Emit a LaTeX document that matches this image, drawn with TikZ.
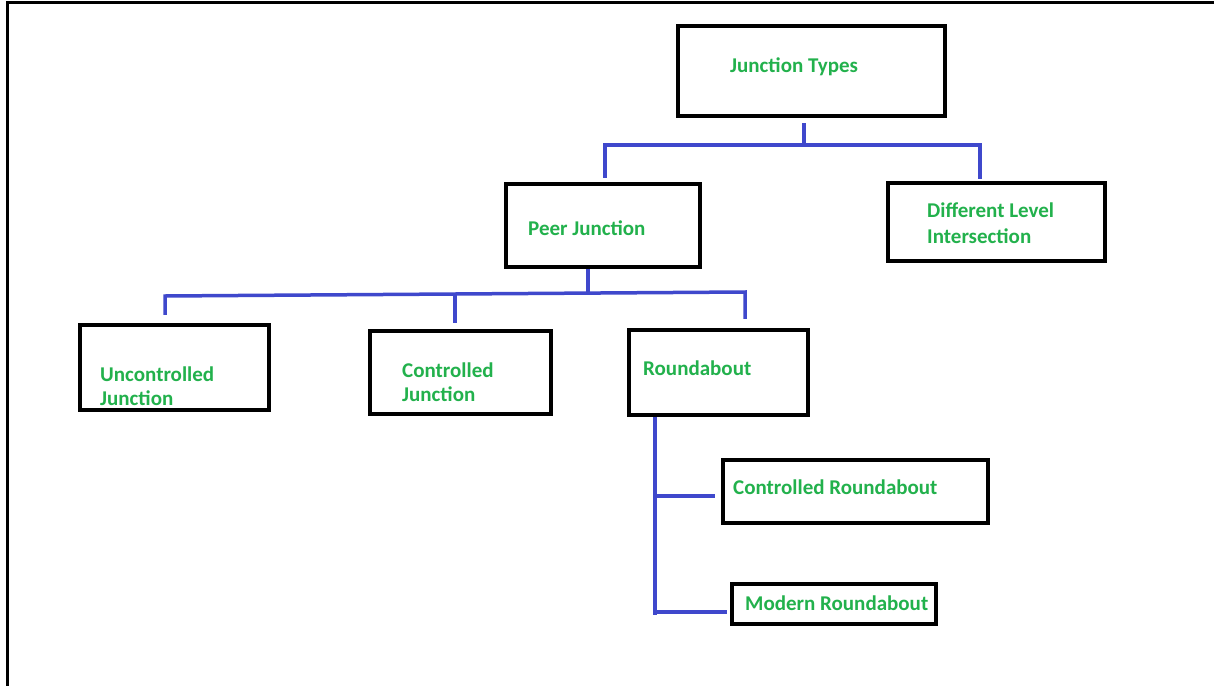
\documentclass[tikz,border=0pt]{standalone}
\usepackage{fontspec}
\setmainfont{Carlito}
\usetikzlibrary{calc}
\definecolor{labelgreen}{HTML}{22B14C}
\definecolor{linkblue}{HTML}{3F48CC}
\begin{document}
\begin{tikzpicture}[x=1pt,y=-1pt,
  box/.style={draw=black,line width=4.5pt,rectangle,inner sep=0pt},
  lbl/.style={anchor=base west,inner sep=0pt,text=labelgreen,
    font=\fontsize{21}{25}\selectfont\bfseries},
  link/.style={draw=linkblue,line width=3.5pt},
  frame/.style={draw=black,line width=3pt}]
\useasboundingbox (0,0) rectangle (1214,685);
\fill[white] (0,0) rectangle (1214,685);
% outer frame (top and left edges)
\draw[frame] (7,686) -- (7,3) -- (1215,3);

% boxes
\node[box,minimum width=267pt,minimum height=90pt] (jt)   at (811.5,71)   {};
\node[box,minimum width=194pt,minimum height=83pt] (peer) at (603,225.5)  {};
\node[box,minimum width=217pt,minimum height=78pt] (dli)  at (996.5,222)  {};
\node[box,minimum width=189pt,minimum height=85pt] (unc)  at (174.5,367.5){};
\node[box,minimum width=181pt,minimum height=83pt] (ctl)  at (460.5,372.5){};
\node[box,minimum width=179pt,minimum height=85pt] (rnd)  at (718.5,372.5){};
\node[box,minimum width=265pt,minimum height=63pt] (cra)  at (855.5,491.5){};
\node[box,minimum width=204pt,minimum height=40pt] (mra)  at (834,604)    {};

% labels
\node[lbl] (jt-l)   at (730,72)  {Junction Types};
\node[lbl] (peer-l) at (528,235) {Peer Junction};
\node[lbl] (dli-l1) at (927,217) {Different Level};
\node[lbl] (dli-l2) at (927,243) {Intersection};
\node[lbl] (unc-l1) at (100,381) {Uncontrolled};
\node[lbl] (unc-l2) at (100,405) {Junction};
\node[lbl] (ctl-l1) at (402,377) {Controlled};
\node[lbl] (ctl-l2) at (402,401) {Junction};
\node[lbl] (rnd-l)  at (643,375) {Roundabout};
\node[lbl] (cra-l)  at (733,494) {Controlled Roundabout};
\node[lbl] (mra-l)  at (745,610) {Modern Roundabout};

% first level
\coordinate (t1) at (804,145);
\coordinate (hA) at (605,145);
\coordinate (hB) at (980,145);
\draw[link] ([yshift=-5pt]t1 |- jt.south) -- (t1);
\draw[link] ([yshift=4pt]hA |- peer.north) -- (hA) -- (hB) -- ([yshift=2pt]hB |- dli.north);

% second level
\coordinate (pm) at (588,293);
\coordinate (pA) at (165,296);
\coordinate (pc) at (455,294);
\coordinate (pB) at (745,292);
\draw[link] (pm |- peer.south) -- (pm);
\draw[link] ([yshift=8pt]pA |- unc.north) -- (pA) -- (pB) -- ([yshift=9pt]pB |- rnd.north);
\draw[link] (pc) -- ([yshift=6pt]pc |- ctl.north);

% roundabout branch
\coordinate (r1) at (655,496);
\coordinate (r2) at (655,612);
\draw[link] (r1 |- rnd.south) -- ([yshift=-3pt]r2);
\draw[link] (r1) -- ([xshift=-6pt]cra.west |- r1);
\draw[link] (r2) -- ([xshift=-3pt]mra.west |- r2);
\end{tikzpicture}
\end{document}
